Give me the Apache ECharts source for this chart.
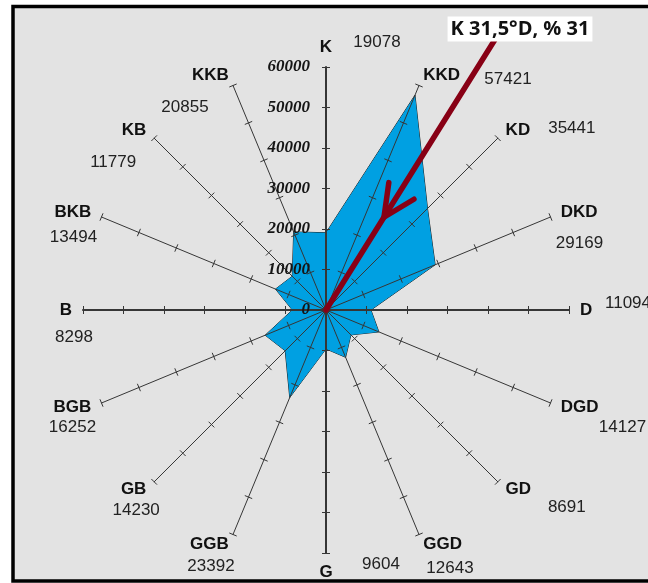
<!DOCTYPE html>
<html><head><meta charset="utf-8">
<script src="https://cdn.jsdelivr.net/npm/echarts@6/dist/echarts.min.js"></script>
<style>html,body{margin:0;padding:0;background:#fff}#c{width:648px;height:583px}</style>
</head><body><div id="c"></div>
<script>
// ---- data ----
const directions = ['K','KKB','KB','BKB','B','BGB','GB','GGB','G','GGD','GD','DGD','D','DKD','KD','KKD'];
const counts = [19078,20855,11779,13494,8298,16252,14230,23392,9604,12643,8691,14127,11094,29169,35441,57421];
const axisMin = 0;
const axisMax = 60000;
const tickStep = 10000;
const annotationText = 'K 31,5°D, % 31';
const annotationBearing = 32; // drawn arrow bearing (deg from K toward D)

// ---- layout ----
const cx = 326, cy = 310, R = 243;
// offset of each value label from the end of its axis
const valueOffsets = {
  K:[51,-25], KKB:[-48,22], KB:[-41,24], BKB:[-28,20], B:[-9,27], BGB:[-29,24],
  GB:[-18,28], GGB:[-22,32], G:[55,11], GGD:[31,34], GD:[69,25], DGD:[72,24],
  D:[59,-7], DKD:[29,26], KD:[74,-10], KKD:[89,-6]
};
const axisColor = '#363636';
const nameFont = {color:'#111', fontWeight:'bold', fontSize:17, fontFamily:'Liberation Sans, Arial'};
const tickFont = {color:'#151515', fontWeight:'bold', fontStyle:'italic', fontSize:17, fontFamily:'Liberation Serif, Times New Roman'};

const split = Math.round((axisMax - axisMin) / tickStep);
function indicators(withExtras) {
  return directions.map((d, i) => {
    const o = {name: d, min: axisMin, max: axisMax};
    if (withExtras) {
      if (i === 0) o.axisLabel = {show: true};
      if (i % 4 === 0) o.axisLine = {lineStyle: {width: 2}};
    }
    return o;
  });
}

const step = 360 / directions.length;
function axisEnd(i) {
  const a = (90 + step * i) * Math.PI / 180;
  return [cx + R * Math.cos(a), cy - R * Math.sin(a)];
}

const graphics = [];
graphics.push({type:'rect', z:-10, silent:true,
  shape:{x:13, y:6.5, width:720, height:574.5},
  style:{fill:'#e3e3e3', stroke:'#000', lineWidth:3.5}});

directions.forEach((d, i) => {
  const e = axisEnd(i), off = valueOffsets[d];
  graphics.push({type:'text', z:5, silent:true, x: e[0] + off[0], y: e[1] + off[1],
    style:{text: String(counts[i]), fill:'#222', font:'17px "Liberation Sans", Arial', align:'center', verticalAlign:'middle'}});
});

// annotation arrow
const br = annotationBearing * Math.PI / 180;
const dir = [Math.sin(br), -Math.cos(br)];
const start = [cx + 1.31 * R * dir[0], cy + 1.31 * R * dir[1]];
const tip = [cx + 0.45 * R * dir[0], cy + 0.45 * R * dir[1]];
function rot(v, deg) { const t = deg * Math.PI / 180; return [v[0]*Math.cos(t) - v[1]*Math.sin(t), v[0]*Math.sin(t) + v[1]*Math.cos(t)]; }
const armL = rot(dir, -24), armR = rot(dir, 27);
const armLen = 35;
graphics.push({type:'line', z:20, silent:true, shape:{x1:start[0], y1:start[1], x2:cx, y2:cy},
  style:{stroke:'#880015', lineWidth:5.5, lineCap:'round'}});
graphics.push({type:'polyline', z:20, silent:true,
  shape:{points:[[tip[0]+armLen*armL[0], tip[1]+armLen*armL[1]], tip, [tip[0]+armLen*armR[0], tip[1]+armLen*armR[1]]]},
  style:{stroke:'#880015', lineWidth:5.5, lineCap:'round', lineJoin:'round', fill:null}});
graphics.push({type:'text', z:30, silent:true, x:520, y:29,
  style:{text: annotationText, fill:'#111', font:'bold 20px "Open Sans", Arial', align:'center', verticalAlign:'middle',
    backgroundColor:'#fff', padding:[3,3,2,3]}});

const chart = echarts.init(document.getElementById('c'), null, {renderer:'canvas'});
chart.setOption({
  backgroundColor:'#fff',
  animation:false,
  graphic: graphics,
  radar: [{
    center:[cx, cy], radius:R, startAngle:90, splitNumber:split, shape:'polygon',
    indicator: indicators(true),
    axisName: nameFont,
    axisNameGap: 11,
    axisLine:{show:true, lineStyle:{color:axisColor, width:1}},
    axisTick:{show:true, length:4, lineStyle:{color:axisColor, width:1}},
    axisLabel:Object.assign({show:false, margin:16, formatter: v => String(v)}, tickFont),
    splitLine:{show:false}, splitArea:{show:false},
    z:3
  },{
    center:[cx, cy], radius:R, startAngle:90, splitNumber:split, shape:'polygon',
    indicator: indicators(false),
    axisName:{show:false},
    axisLine:{show:false},
    axisTick:{show:true, length:-4, lineStyle:{color:axisColor, width:1}},
    axisLabel:{show:false},
    splitLine:{show:false}, splitArea:{show:false},
    z:3
  }],
  series:[{
    type:'radar', radarIndex:0, symbol:'none', z:2,
    data:[{value: counts, name:'count'}],
    areaStyle:{color:'#00a0e2', opacity:1},
    lineStyle:{color:'#1a1a1a', width:1}
  }]
});
</script></body></html>
